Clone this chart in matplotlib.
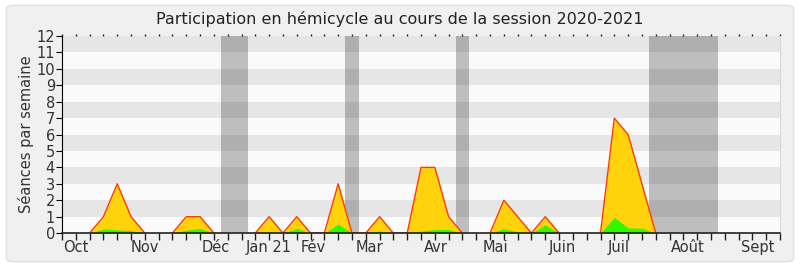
import matplotlib
matplotlib.use("Agg")
import numpy as np
import matplotlib.pyplot as plt
from matplotlib.patches import FancyBboxPatch

# weekly values, week 0 .. 52
weeks = list(range(53))
seances = [0, 0, 0, 1, 3, 1, 0, 0, 0, 1, 1, 0, 0, 0, 0, 1, 0, 1, 0, 0,
           3, 0, 0, 1, 0, 0, 4, 4, 1, 0, 0, 0, 2, 1, 0, 1, 0, 0, 0, 0,
           7, 6, 3, 0, 0, 0, 0, 0, 0, 0, 0, 0, 0]
interventions = [0, 0, 0, 0.25, 0.2, 0.15, 0, 0, 0, 0.18, 0.28, 0, 0, 0, 0, 0.08, 0, 0.28, 0, 0,
                 0.55, 0, 0, 0.13, 0, 0, 0.12, 0.22, 0.22, 0, 0, 0, 0.26, 0.08, 0, 0.5, 0, 0, 0, 0,
                 0.96, 0.32, 0.3, 0, 0, 0, 0, 0, 0, 0, 0, 0, 0]

vacances = [(11.5, 13.5), (20.5, 21.5), (28.5, 29.5), (42.5, 47.5)]

mois = ["Oct", "Nov", "Déc", "Jan 21", "Fév", "Mar", "Avr", "Mai", "Juin", "Juil", "Août", "Sept"]
mois_pos = [1, 6, 11.1, 15, 18.2, 22.3, 27.1, 31.4, 36.2, 40.3, 45.3, 50.4]

fig = plt.figure(figsize=(8, 2.67), dpi=100)
fig.patch.set_facecolor("white")
fig.patches.append(FancyBboxPatch((0.008, 0.02), 0.984, 0.96, boxstyle="round,pad=0,rounding_size=0.012",
                                  transform=fig.transFigure, facecolor="#f0f0f0",
                                  edgecolor="#e0e0e0", linewidth=1, zorder=-10))

ax = fig.add_axes([0.0775, 0.127, 0.8975, 0.738])
ax.set_facecolor("#fafafa")
ax.set_xlim(0, 52)
ax.set_ylim(0, 12)

for y in range(1, 12, 2):
    ax.axhspan(y, y + 1, color="#e6e6e6", lw=0, zorder=0)
for a, b in vacances:
    ax.axvspan(a, b, color="black", alpha=0.24, lw=0, zorder=1)

ax.fill_between(weeks, seances, color="#ffd20c", lw=0, zorder=2)
ax.fill_between(weeks, interventions, color="#33f700", lw=0, zorder=3)

# red outline only around the bumps, not along the zero baseline
s = np.array(seances, dtype=float)
prev = np.r_[0, s[:-1]]
nxt = np.r_[s[1:], 0]
ligne = np.where((s == 0) & (prev == 0) & (nxt == 0), np.nan, s)
ax.plot(weeks, ligne, color="#ff3c00", lw=1, zorder=4)

ax.spines["top"].set_visible(False)
ax.spines["right"].set_color("#d8d8d8")
ax.spines["left"].set_color("black")
ax.spines["bottom"].set_color("#222222")
ax.spines["bottom"].set_linewidth(1.2)
ax.spines["bottom"].set_zorder(5)

ax.set_yticks(range(13))
ax.tick_params(axis="y", labelsize=10.5, labelcolor="#333333", color="black",
               length=4, width=0.8, pad=1)

ax.xaxis.remove_overlapping_locs = False
ax.set_xticks(weeks)
ax.set_xticklabels([])
ax.tick_params(axis="x", which="major", bottom=True, top=True, direction="out",
               length=5, width=1, color="#222222")
ax.set_xticks(mois_pos, minor=True)
ax.set_xticklabels(mois, minor=True)
ax.tick_params(axis="x", which="minor", length=0, labelsize=10.5, labelcolor="#333333", pad=5)
for t in ax.xaxis.get_major_ticks():
    t.tick2line.set_markersize(1.5)

ax.set_ylabel("Séances par semaine", fontsize=10.5, color="#333333", labelpad=2)
fig.text(0.5, 0.93, "Participation en hémicycle au cours de la session 2020-2021",
         ha="center", va="center", fontsize=11.5, color="#222222")

fig.savefig("out.png", dpi=100, facecolor=fig.get_facecolor())
